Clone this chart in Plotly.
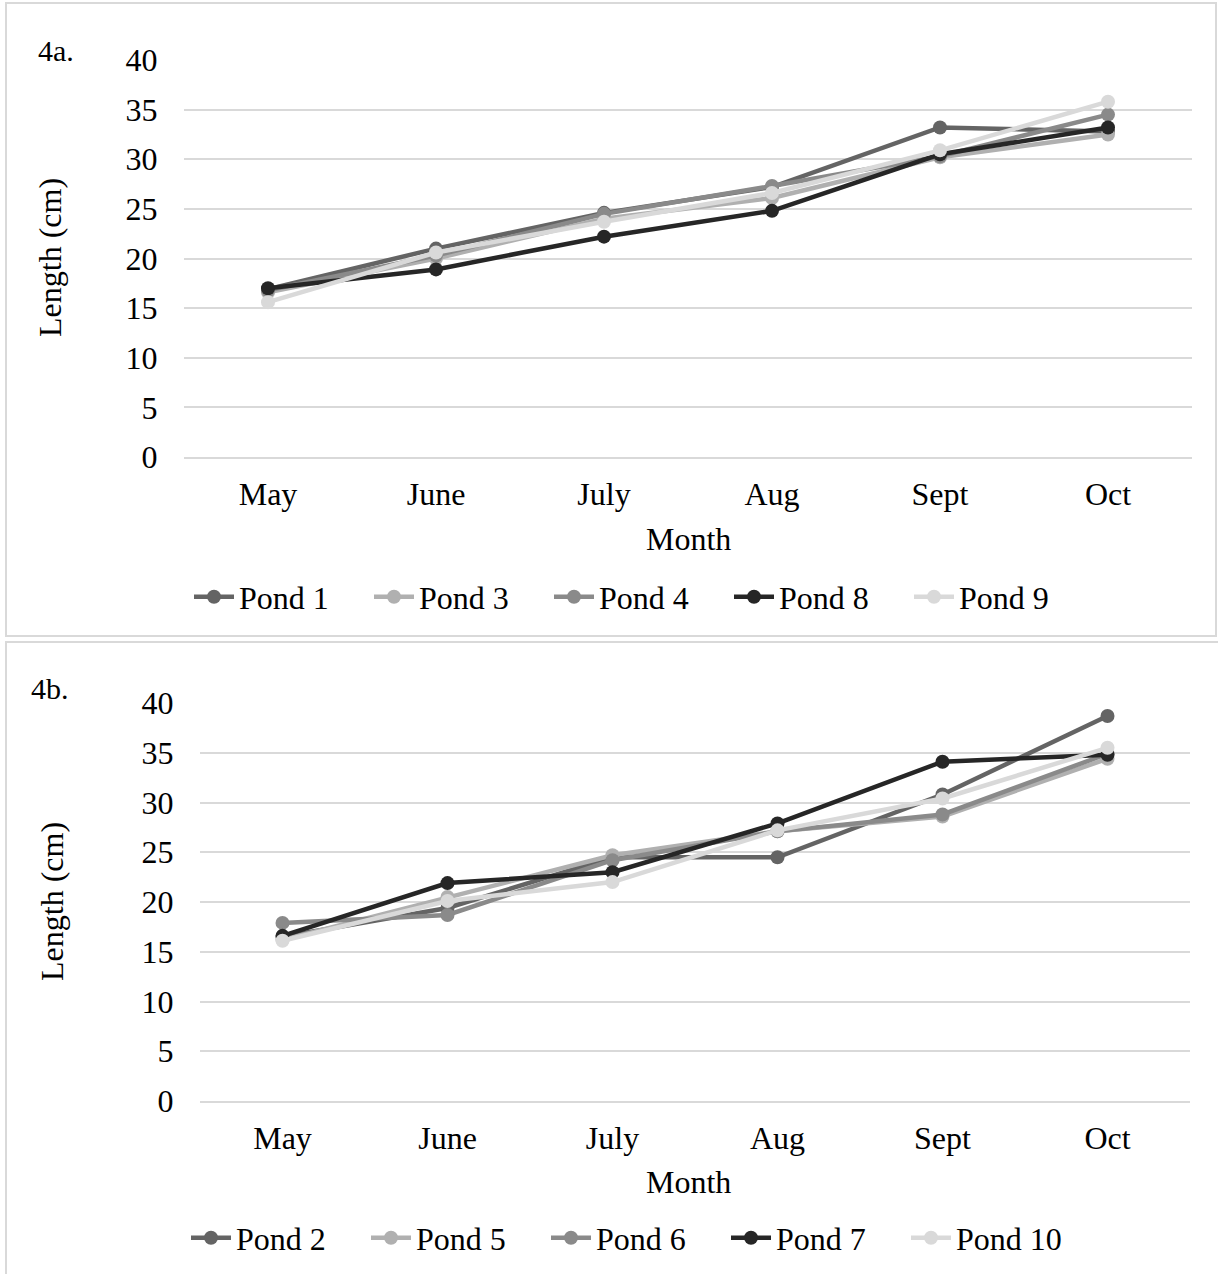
import plotly.graph_objects as go

W, H = 1218, 1274

months = ["May", "June", "July", "Aug", "Sept", "Oct"]

# Panel 4a
pond1 = [16.9, 21.0, 24.6, 27.2, 33.2, 32.8]
pond3 = [16.6, 20.0, 24.0, 26.1, 30.2, 32.5]
pond4 = [16.8, 20.3, 24.5, 27.3, 30.3, 34.5]
pond8 = [17.0, 18.9, 22.2, 24.8, 30.5, 33.2]
pond9 = [15.6, 20.6, 23.7, 26.6, 30.9, 35.8]

# Panel 4b
pond2 = [16.5, 19.4, 24.5, 24.5, 30.8, 38.7]
pond5 = [16.2, 20.5, 24.7, 27.1, 28.6, 34.4]
pond6 = [17.9, 18.7, 24.2, 27.1, 28.8, 34.9]
pond7 = [16.6, 21.9, 23.0, 27.9, 34.1, 34.8]
pond10 = [16.1, 20.1, 22.0, 27.2, 30.4, 35.5]

y_ticks = [0, 5, 10, 15, 20, 25, 30, 35, 40]

colors = ["#646464", "#b0b0b0", "#8a8a8a", "#262626", "#d9d9d9"]
FONT = "Liberation Serif"
FS = 32

def px_x(p):
    return p / W

def px_y(p):
    return 1 - p / H

fig = go.Figure()

series_a = [("Pond 1", pond1), ("Pond 3", pond3), ("Pond 4", pond4), ("Pond 8", pond8), ("Pond 9", pond9)]
series_b = [("Pond 2", pond2), ("Pond 5", pond5), ("Pond 6", pond6), ("Pond 7", pond7), ("Pond 10", pond10)]

for (name, vals), c in zip(series_a, colors):
    fig.add_trace(go.Scatter(x=months, y=vals, name=name, mode="lines+markers",
                             line=dict(color=c, width=4.5), marker=dict(color=c, size=14),
                             xaxis="x", yaxis="y", legend="legend"))
for (name, vals), c in zip(series_b, colors):
    fig.add_trace(go.Scatter(x=months, y=vals, name=name, mode="lines+markers",
                             line=dict(color=c, width=4.5), marker=dict(color=c, size=14),
                             xaxis="x2", yaxis="y2", legend="legend2"))

grid = "#d9d9d9"
xcommon = dict(type="category", range=[-0.5, 5.5], showgrid=False, showline=True,
               linecolor=grid, linewidth=1.5, ticks="outside", ticklen=8,
               tickcolor="rgba(0,0,0,0)", tickfont=dict(family=FONT, size=FS, color="black"),
               fixedrange=True, automargin=False)
ycommon = dict(range=[0, 40], tickvals=y_ticks, showgrid=True, gridcolor=grid, gridwidth=1.5,
               zeroline=False, showline=False, ticks="outside", ticklen=19,
               tickcolor="rgba(0,0,0,0)", tickfont=dict(family=FONT, size=FS, color="black"),
               fixedrange=True, automargin=False)

fig.update_layout(
    width=W, height=H, margin=dict(l=0, r=0, t=0, b=0, autoexpand=False),
    paper_bgcolor="white", plot_bgcolor="white",
    font=dict(family=FONT, size=FS, color="black"),
    xaxis=dict(domain=[px_x(184), px_x(1192)], anchor="y", **xcommon),
    yaxis=dict(domain=[px_y(457), px_y(60)], anchor="x", **ycommon),
    xaxis2=dict(domain=[px_x(200), px_x(1190)], anchor="y2", **xcommon),
    yaxis2=dict(domain=[px_y(1101), px_y(703)], anchor="x2", **ycommon),
    legend=dict(orientation="h", x=px_x(189), xanchor="left", y=px_y(597), yanchor="middle",
                entrywidth=125, entrywidthmode="pixels", font=dict(family=FONT, size=FS),
                bgcolor="rgba(0,0,0,0)", itemwidth=40),
    legend2=dict(orientation="h", x=px_x(186), xanchor="left", y=px_y(1238), yanchor="middle",
                 entrywidth=125, entrywidthmode="pixels", font=dict(family=FONT, size=FS),
                 bgcolor="rgba(0,0,0,0)", itemwidth=40),
    showlegend=True,
)

def ann(text, x, y, angle=0, size=FS):
    return dict(text=text, x=px_x(x), y=px_y(y), xref="paper", yref="paper", showarrow=False,
                xanchor="center", yanchor="middle", textangle=angle,
                font=dict(family=FONT, size=size))

annotations = [
    ann("4a.", 56, 50, size=FS - 2),
    ann("4b.", 50, 688, size=FS - 2),
    ann("Length (cm)", 50, 258, angle=-90),
    ann("Length (cm)", 52, 902, angle=-90),
    ann("Month", 688, 539),
    ann("Month", 688, 1182),
]
fig.update_layout(annotations=annotations)

fig.add_shape(type="rect", xref="paper", yref="paper", x0=px_x(6), x1=px_x(1216),
              y0=px_y(636), y1=px_y(3), line=dict(color=grid, width=2), fillcolor="rgba(0,0,0,0)")
fig.add_shape(type="rect", xref="paper", yref="paper", x0=px_x(6), x1=px_x(1224),
              y0=px_y(1280), y1=px_y(642), line=dict(color=grid, width=2), fillcolor="rgba(0,0,0,0)")

fig.write_html("out.html", config={"displayModeBar": False},
               post_script="document.body.style.margin='0px';")
